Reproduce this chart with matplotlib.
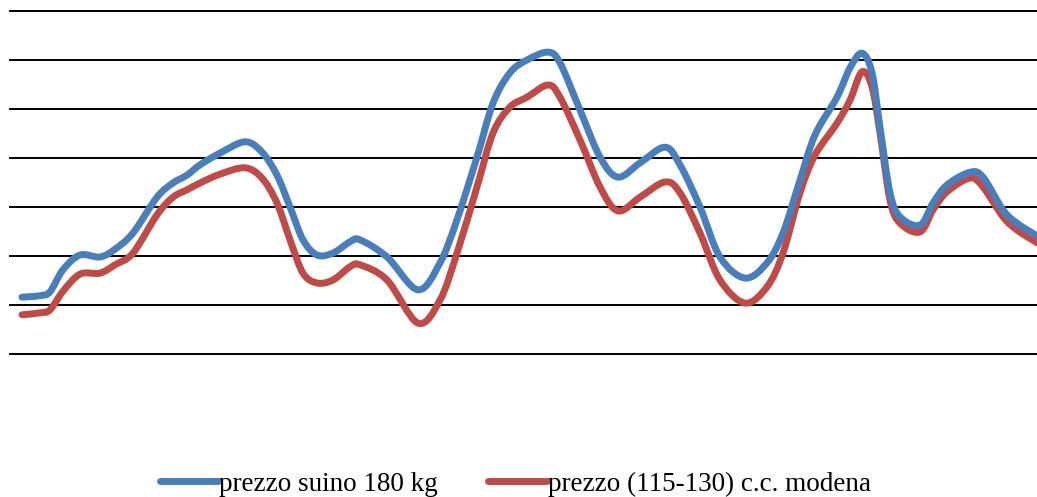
"""
Andamento prezzi suini - due serie con linee lisce, senza etichette sugli assi
"""
import matplotlib.pyplot as plt
import numpy as np
from matplotlib.lines import Line2D
from matplotlib.patches import PathPatch
from matplotlib.path import Path

plt.rcParams['font.family'] = ['Liberation Serif', 'DejaVu Serif']

# Posizioni lungo l'asse del tempo (unita' arbitrarie)
periodo = [22, 40, 50, 63, 80, 100, 115, 133, 157, 173, 187, 200, 220, 245, 262,
           277, 290, 303, 317, 333, 350, 360, 387, 418, 440, 457, 477, 493, 510,
           527, 548, 560, 580, 600, 618, 640, 665, 680, 700, 720, 745, 767, 783,
           800, 815, 837, 850, 862, 872, 880, 890, 900, 920, 933, 947, 970, 983,
           1003, 1017, 1037]

suino_180 = [1.16, 1.19, 1.27, 1.72, 2.02, 1.98, 2.14, 2.47, 3.20, 3.49, 3.65,
             3.86, 4.10, 4.33, 4.12, 3.65, 3.00, 2.33, 2.02, 2.06, 2.29, 2.33,
             1.98, 1.31, 1.86, 2.74, 4.02, 5.12, 5.74, 6.00, 6.16, 5.94, 4.98,
             4.02, 3.61, 3.90, 4.22, 3.86, 3.00, 1.98, 1.55, 1.86, 2.47, 3.55,
             4.47, 5.24, 5.84, 6.14, 5.74, 4.63, 3.29, 2.80, 2.63, 3.08, 3.45,
             3.71, 3.61, 2.94, 2.67, 2.41]

modena = [0.80, 0.84, 0.90, 1.28, 1.63, 1.65, 1.82, 2.06, 2.84, 3.20, 3.35,
          3.49, 3.67, 3.80, 3.59, 3.08, 2.33, 1.65, 1.45, 1.51, 1.78, 1.82,
          1.51, 0.63, 1.10, 2.06, 3.41, 4.51, 5.04, 5.24, 5.49, 5.24, 4.37,
          3.41, 2.92, 3.20, 3.51, 3.29, 2.47, 1.51, 1.04, 1.37, 2.06, 3.29,
          4.06, 4.71, 5.18, 5.76, 5.45, 4.51, 3.14, 2.67, 2.49, 2.94, 3.31,
          3.59, 3.41, 2.80, 2.53, 2.27]

labels = ['prezzo suino 180 kg', 'prezzo (115-130) c.c. modena']
colori = ['#4A7EBB', '#BE4B48']


def linea_smussata(x, y):
    # curva di Bezier che passa per i punti (come la "linea smussata" di Excel)
    p = np.column_stack([x, y]).astype(float)
    verts = [p[0]]
    codes = [Path.MOVETO]
    n = len(p)
    for i in range(n - 1):
        p0 = p[i - 1] if i > 0 else p[i]
        p3 = p[i + 2] if i + 2 < n else p[i + 1]
        c1 = p[i] + (p[i + 1] - p0) / 6
        c2 = p[i + 1] - (p3 - p[i]) / 6
        verts += [c1, c2, p[i + 1]]
        codes += [Path.CURVE4] * 3
    return Path(verts, codes)


fig = plt.figure(figsize=(10.37, 4.97), dpi=100)
ax = fig.add_axes([10 / 1037, 143 / 497, 1027 / 1037, 343 / 497])

# griglia orizzontale
for g in range(0, 8):
    ax.axhline(g, color='black', lw=1.4, clip_on=False, zorder=1)

serie = [suino_180, modena]
for k in [1, 0]:
    ax.add_patch(PathPatch(linea_smussata(periodo, serie[k]), fill=False,
                           edgecolor=colori[k], lw=5, joinstyle='round',
                           capstyle='round', zorder=3 - k))

ax.set_xlim(10, 1037)
ax.set_ylim(0, 7)
ax.axis('off')

handles = [Line2D([], [], color=c, lw=5, solid_capstyle='round') for c in colori]
fig.legend(handles, labels, loc='center', bbox_to_anchor=(0.497, 0.026), ncol=2,
           frameon=False, fontsize=19.5, handlelength=2.15, handletextpad=0.05,
           columnspacing=1.85)

fig.savefig('out.png', dpi=100)
